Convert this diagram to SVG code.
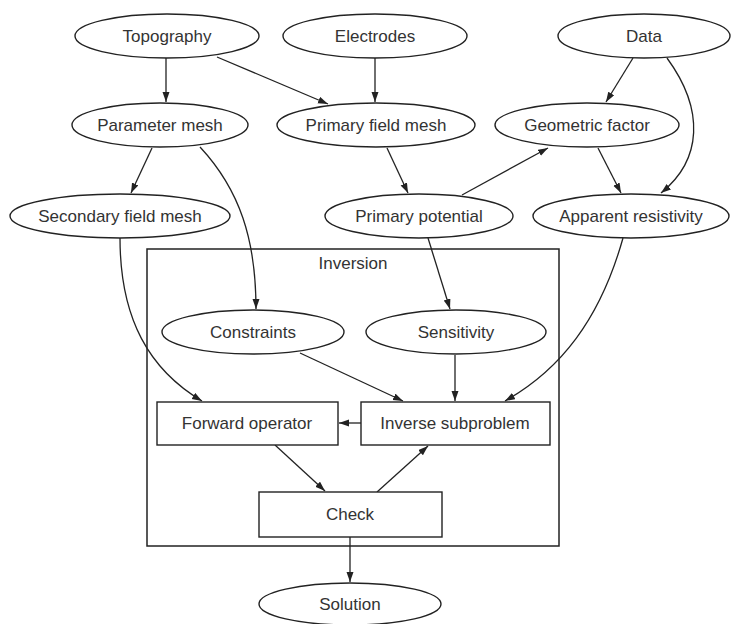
<svg xmlns="http://www.w3.org/2000/svg" width="731" height="624" viewBox="0 0 731 624">
<style>
.n{fill:#fff;stroke:#222;stroke-width:1.4}
.t{font-family:"Liberation Sans",Arial,sans-serif;font-size:17px;fill:#333;text-anchor:middle}
.e{fill:none;stroke:#222;stroke-width:1.3}
</style>
<defs>
<marker id="a" markerUnits="userSpaceOnUse" markerWidth="11" markerHeight="8" refX="10" refY="3.5" orient="auto">
<path d="M0,0 L10,3.5 L0,7 z" fill="#222"/>
</marker>
</defs>
<rect width="731" height="624" fill="#fff"/>
<g id="inversion">
<rect x="147" y="249" width="412" height="297" fill="none" stroke="#222" stroke-width="1.5"/>
<text class="t" x="353" y="269">Inversion</text>
</g>
<g id="connectors">
<path class="e" d="M166,58 L166,102" marker-end="url(#a)"/>
<path class="e" d="M217,57 L328,104" marker-end="url(#a)"/>
<path class="e" d="M375,58 L375,102" marker-end="url(#a)"/>
<path class="e" d="M633,58 L606,102" marker-end="url(#a)"/>
<path class="e" d="M667,58 C705,110 702,160 661,193" marker-end="url(#a)"/>
<path class="e" d="M152,148 L131,193" marker-end="url(#a)"/>
<path class="e" d="M200,147 C240,190 256,240 256,309" marker-end="url(#a)"/>
<path class="e" d="M387,148 L408,193" marker-end="url(#a)"/>
<path class="e" d="M462,195 L548,148" marker-end="url(#a)"/>
<path class="e" d="M598,148 L621,193" marker-end="url(#a)"/>
<path class="e" d="M120,238 C120,320 150,370 202,401" marker-end="url(#a)"/>
<path class="e" d="M428,238 L450,309" marker-end="url(#a)"/>
<path class="e" d="M623,238 C600,320 560,370 505,401" marker-end="url(#a)"/>
<path class="e" d="M300,353 L403,401" marker-end="url(#a)"/>
<path class="e" d="M455,355 L455,401" marker-end="url(#a)"/>
<path class="e" d="M361,423 L339,423" marker-end="url(#a)"/>
<path class="e" d="M275,445 L325,491" marker-end="url(#a)"/>
<path class="e" d="M377,492 L428,446" marker-end="url(#a)"/>
<path class="e" d="M350,537 L350,582" marker-end="url(#a)"/>
</g>
<g id="topography"><ellipse class="n" cx="167" cy="36" rx="92" ry="22"/><text class="t" x="167" y="42">Topography</text></g>
<g id="electrodes"><ellipse class="n" cx="375" cy="36" rx="92" ry="22"/><text class="t" x="375" y="42">Electrodes</text></g>
<g id="data"><ellipse class="n" cx="644" cy="36" rx="86" ry="22"/><text class="t" x="644" y="42">Data</text></g>
<g id="parameter-mesh"><ellipse class="n" cx="160" cy="125" rx="88" ry="22"/><text class="t" x="160" y="131">Parameter mesh</text></g>
<g id="primary-field-mesh"><ellipse class="n" cx="376" cy="125" rx="99" ry="22"/><text class="t" x="376" y="131">Primary field mesh</text></g>
<g id="geometric-factor"><ellipse class="n" cx="587" cy="125" rx="92" ry="22"/><text class="t" x="587" y="131">Geometric factor</text></g>
<g id="secondary-field-mesh"><ellipse class="n" cx="120" cy="216" rx="110" ry="22"/><text class="t" x="120" y="222">Secondary field mesh</text></g>
<g id="primary-potential"><ellipse class="n" cx="419" cy="216" rx="94" ry="22"/><text class="t" x="419" y="222">Primary potential</text></g>
<g id="apparent-resistivity"><ellipse class="n" cx="631" cy="216" rx="98" ry="22"/><text class="t" x="631" y="222">Apparent resistivity</text></g>
<g id="constraints"><ellipse class="n" cx="253" cy="332" rx="91" ry="22"/><text class="t" x="253" y="338">Constraints</text></g>
<g id="sensitivity"><ellipse class="n" cx="456" cy="332" rx="90" ry="22"/><text class="t" x="456" y="338">Sensitivity</text></g>
<g id="forward-operator"><rect class="n" x="157" y="402" width="181" height="43"/><text class="t" x="247" y="429">Forward operator</text></g>
<g id="inverse-subproblem"><rect class="n" x="361" y="402" width="189" height="43"/><text class="t" x="455" y="429">Inverse subproblem</text></g>
<g id="check"><rect class="n" x="259" y="492" width="183" height="45"/><text class="t" x="350" y="520">Check</text></g>
<g id="solution"><ellipse class="n" cx="350" cy="604" rx="91" ry="21"/><text class="t" x="350" y="610">Solution</text></g>
</svg>
